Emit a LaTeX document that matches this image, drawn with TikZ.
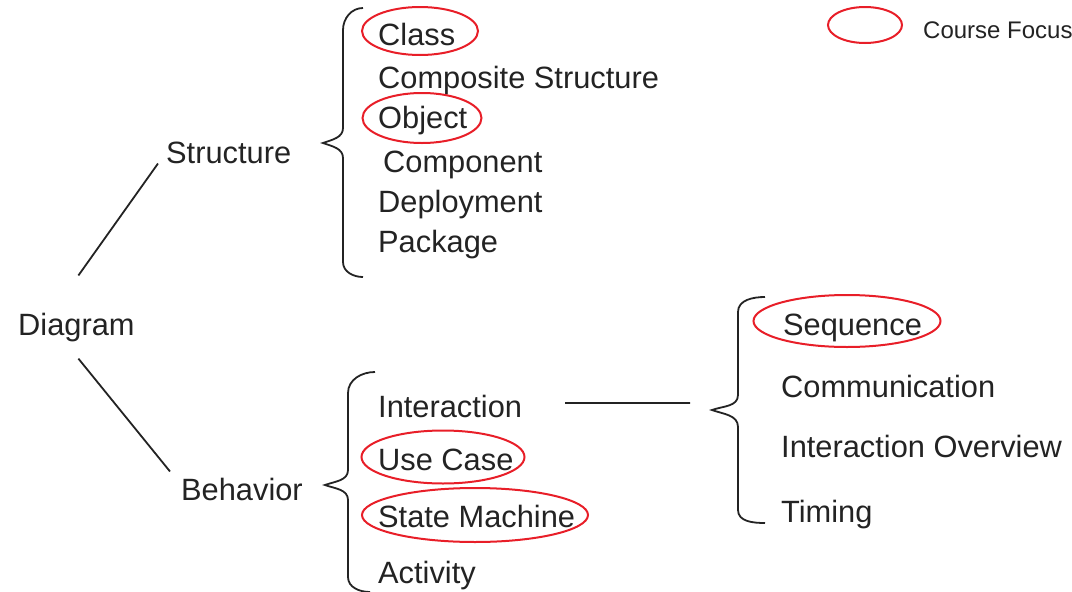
\documentclass[tikz,border=0pt]{standalone}
\usepackage{fontspec}
\setmainfont{Liberation Sans}
\usetikzlibrary{shapes.geometric}
\definecolor{focusred}{RGB}{232,30,40}
\definecolor{inkgray}{RGB}{35,35,35}

\begin{document}
\begin{tikzpicture}[x=1pt, y=1pt,
    item/.style={anchor=base west, inner sep=0pt, text=inkgray,
                 font=\fontsize{30.8}{36}\selectfont},
    focus/.style={draw=focusred, ellipse, line width=2pt, inner sep=0pt},
    link/.style={draw=inkgray, line width=1.8pt},
    brace/.style={draw=inkgray, line width=1.8pt}]
  \useasboundingbox (0,0) rectangle (1072,-592);

  % root and the two branches
  \node (diagram)   [item] at (18,-335)  {Diagram};
  \node (structure) [item] at (166,-163) {Structure};
  \node (behavior)  [item] at (181,-500) {Behavior};

  \draw[link] ([shift={(2,37)}]diagram.north) -- ([xshift=-8pt]structure.south west);
  \draw[link] ([shift={(2,-17)}]diagram.south) -- ([shift={(-11,6)}]behavior.north west);

  % structure diagrams
  \draw[brace] (363,-8) to[out=180,in=90] (343,-30) -- (343,-128)
               to[out=-90,in=20] (323,-143) to[out=-20,in=90] (343,-158)
               -- (343,-262) to[out=-90,in=180] (363,-277);
  \node (class)      [item] at (378,-45)  {Class};
  \node (composite)  [item] at (378,-88)  {Composite Structure};
  \node (object)     [item] at (378,-128) {Object};
  \node (component)  [item] at (383,-172) {Component};
  \node (deployment) [item] at (378,-212) {Deployment};
  \node (package)    [item] at (378,-252) {Package};

  % behavior diagrams
  \draw[brace] (375,-372) to[out=180,in=90] (348,-393) -- (348,-470)
               to[out=-90,in=20] (325,-485) to[out=-20,in=90] (348,-500)
               -- (348,-577) to[out=-90,in=180] (370,-592);
  \node (interaction)  [item] at (378,-417) {Interaction};
  \node (usecase)      [item] at (378,-470) {Use Case};
  \node (statemachine) [item] at (378,-527) {State Machine};
  \node (activity)     [item] at (378,-583) {Activity};

  % interaction diagrams
  \coordinate (interend) at (690,-403);
  \draw[link] ([shift={(43,3)}]interaction.east) -- (interend);
  \draw[brace] (765,-297) to[out=180,in=90] (738,-312) -- (738,-395)
               to[out=-90,in=20] (712,-410) to[out=-20,in=90] (738,-427)
               -- (738,-510) to[out=-90,in=180] (765,-523);
  \node (sequence)      [item] at (783,-335) {Sequence};
  \node (communication) [item] at (781,-397) {Communication};
  \node (overview)      [item] at (781,-457) {Interaction Overview};
  \node (timing)        [item] at (781,-522) {Timing};

  % course focus rings
  \node (classring)    [focus, minimum width=116pt, minimum height=48pt] at (420,-31)  {};
  \node (objectring)   [focus, minimum width=119pt, minimum height=50pt] at (422,-118) {};
  \node (usecasering)  [focus, minimum width=163pt, minimum height=53pt] at (443,-457) {};
  \node (statering)    [focus, minimum width=226pt, minimum height=54pt] at (475,-515) {};
  \node (sequencering) [focus, minimum width=187pt, minimum height=52pt] at (847,-321) {};

  % legend
  \node (legendring) [focus, minimum width=74pt, minimum height=36pt] at (865,-25) {};
  \node (legend) [item, font=\fontsize{24}{28}\selectfont] at (923,-38) {Course Focus};
\end{tikzpicture}
\end{document}
